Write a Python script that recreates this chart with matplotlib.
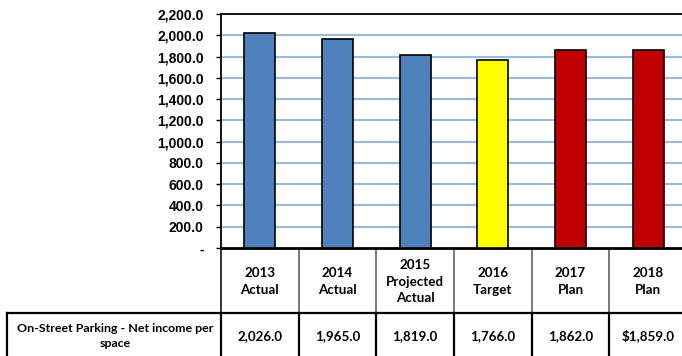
import matplotlib.pyplot as plt
import numpy as np

years = ['2013', '2014', '2015', '2016', '2017', '2018']
stages = ['Actual', 'Actual', 'Projected\nActual', 'Target', 'Plan', 'Plan']
values = [2026.0, 1965.0, 1819.0, 1766.0, 1862.0, 1859.0]
value_labels = ['2,026.0', '1,965.0', '1,819.0', '1,766.0', '1,862.0', '$1,859.0']
bar_colors = ['#4F81BD', '#4F81BD', '#4F81BD', '#FFFF00', '#C00000', '#C00000']
row_label = 'On-Street Parking - Net income per\nspace'
y_ticks = np.arange(0, 2201, 200)

W, H = 682, 356
fig = plt.figure(figsize=(W / 100, H / 100), dpi=100)

# plot area in pixels
left, right, top, zero = 221, 687, 14, 248
ax = fig.add_axes([left / W, (H - zero) / H, (right - left) / W, (zero - top) / H])

x = np.arange(len(values))
ax.bar(x, values, width=0.40, color=bar_colors, edgecolor='black', linewidth=1.2, zorder=3)
ax.set_xlim(-0.5, len(values) - 0.5)
ax.set_ylim(0, 2200)
ax.set_yticks(y_ticks)
ax.set_yticklabels(['-' if v == 0 else f'{v:,.1f}' for v in y_ticks],
                   fontfamily='Liberation Sans', fontweight='bold', fontsize=10)
ax.tick_params(axis='y', length=3.5, width=1, pad=9, direction='out')
ax.set_xticks([])
for v in y_ticks[1:-1]:
    ax.axhline(v, color='#9DB9DD', lw=1.5, zorder=1)

for s in ['left', 'top']:
    ax.spines[s].set_linewidth(1.3)
ax.spines['bottom'].set_linewidth(2)
ax.spines['right'].set_visible(False)

# data table underneath, drawn in pixel coordinates
tab = fig.add_axes([0, 0, 1, 1], zorder=-1)
tab.set_xlim(0, W)
tab.set_ylim(H, 0)
tab.axis('off')

col_w = (right - left) / len(values)
row1_bottom, row2_bottom = 313, 358
label_left = 7
tfont = dict(fontfamily='Lato', fontweight='bold', ha='center', va='center')

for i in range(len(values) + 1):
    xb = left + i * col_w
    tab.plot([xb, xb], [zero, row1_bottom], color='black' if i == 0 else '#555555', lw=1.1)
    tab.plot([xb, xb], [row1_bottom, row2_bottom], color='black', lw=1.6)
tab.plot([label_left, right], [row1_bottom, row1_bottom], color='black', lw=1.6)
tab.plot([label_left, label_left], [row1_bottom, row2_bottom], color='black', lw=1.6)

for i in range(len(values)):
    xc = left + (i + 0.5) * col_w
    tab.text(xc, (zero + row1_bottom) / 2 + 1, f'{years[i]}\n{stages[i]}',
             linespacing=1.45, fontsize=9.6, **tfont)
    tab.text(xc, 336, value_labels[i], fontsize=9.6, **tfont)

tab.text((label_left + left) / 2 + 1, 336, row_label, linespacing=1.5, fontsize=8.9, **tfont)

fig.savefig('out.png', dpi=100)
